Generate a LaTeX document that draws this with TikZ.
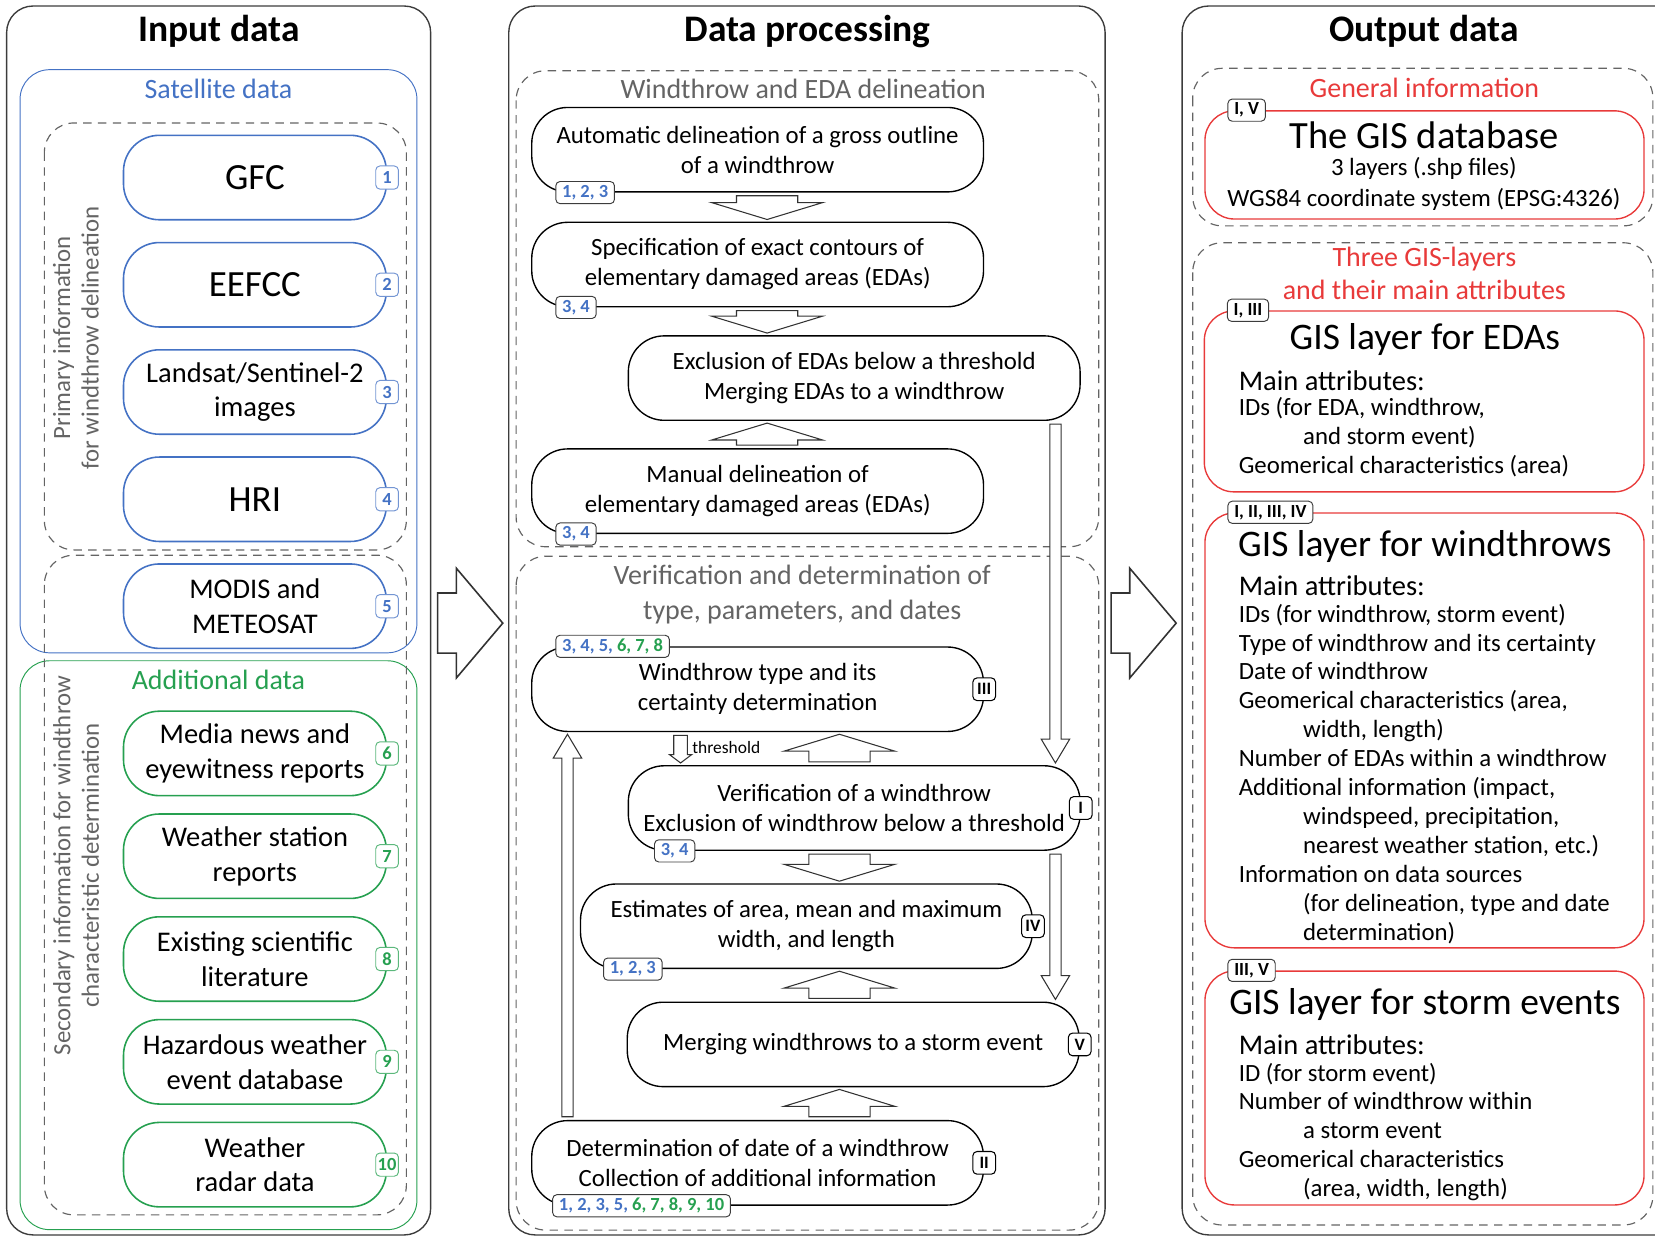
\documentclass[tikz,border=0pt]{standalone}
\usepackage{fontspec}
\setmainfont{Carlito}
\usetikzlibrary{positioning, calc}

\definecolor{srcblue}{RGB}{68,114,196}
\definecolor{srcgreen}{RGB}{38,160,80}
\definecolor{outred}{RGB}{232,58,58}
\definecolor{boxgray}{RGB}{100,100,100}
\definecolor{framegray}{RGB}{60,60,60}
\definecolor{arrowgray}{RGB}{50,50,50}

\newcommand{\fsz}[2]{\fontsize{#1}{#2}\selectfont}
\newcommand{\attrindent}{\hspace*{61pt}}

% hollow vertical arrow: shaft half width, head half width, head length, from, to
\newcommand{\blockarrow}[5]{%
  \draw[blockline] let \p1=(#4), \p2=(#5), \n1={((\y2)-(\y1))/abs((\y2)-(\y1))} in
    ({\x1-#1},{\y1+(\n1)*3}) -- ({\x1-#1},{\y2-(\n1)*2-(\n1)*#3}) -- ({\x1-#2},{\y2-(\n1)*2-(\n1)*#3})
    -- ({\x1},{\y2-(\n1)*2}) -- ({\x1+#2},{\y2-(\n1)*2-(\n1)*#3}) -- ({\x1+#1},{\y2-(\n1)*2-(\n1)*#3})
    -- ({\x1+#1},{\y1+(\n1)*3}) -- cycle;}
% hollow horizontal arrow between the columns
\newcommand{\sidearrow}[5]{%
  \draw[blockline, line width=1.5] let \p1=(#4), \p2=(#5), \n1={((\x2)-(\x1))/abs((\x2)-(\x1))} in
    ({\x1+(\n1)*3},{\y1-#1}) -- ({\x2-(\n1)*2-(\n1)*#3},{\y1-#1}) -- ({\x2-(\n1)*2-(\n1)*#3},{\y1-#2})
    -- ({\x2-(\n1)*2},{\y1}) -- ({\x2-(\n1)*2-(\n1)*#3},{\y1+#2}) -- ({\x2-(\n1)*2-(\n1)*#3},{\y1+#1})
    -- ({\x1+(\n1)*3},{\y1+#1}) -- cycle;}

\tikzset{
colframe/.style={draw=framegray, line width=1.3, rounded corners=25},
coltitle/.style={font=\fsz{35.5}{40}\bfseries},
groupbox/.style={line width=0.9, rounded corners=28},
grouptitle/.style={font=\fsz{26.5}{33}},
dashgroup/.style={draw=boxgray, line width=1.1, dash pattern=on 8pt off 6pt, rounded corners=28},
dashtitle/.style={text=boxgray, font=\fsz{26.5}{33.5}, align=center},
sidenote/.style={rotate=90, align=center, text=boxgray, font=\fsz{23.5}{27}},
srcitem/.style={line width=1.5, rounded corners=34, minimum width=249, minimum height=80, align=center, font=\fsz{27}{33}},
srcbig/.style={font=\fsz{35}{40}},
srctag/.style={fill=white, line width=0.9, rounded corners=4, minimum width=21.5, minimum height=22, inner sep=1.5, font=\fsz{17.5}{19}\bfseries},
procbox/.style={draw, line width=1.3, rounded corners=34, minimum width=428, minimum height=80, align=center, font=\fsz{23.5}{28.5}},
reftag/.style={draw=framegray, fill=white, line width=0.9, rounded corners=4, minimum height=21, inner xsep=6, inner ysep=1, font=\fsz{17.5}{19}\bfseries},
romtag/.style={draw, fill=white, line width=1, rounded corners=4, minimum width=21.5, minimum height=21.5, inner sep=1.5, font=\fsz{16.5}{18}\bfseries},
blockline/.style={draw=arrowgray, fill=white, line width=1},
threshnote/.style={font=\fsz{16.5}{18}, inner sep=0},
layerbox/.style={draw=outred, line width=1.3, rounded corners=28},
layertitle/.style={font=\fsz{35.5}{40}},
layertext/.style={font=\fsz{23.5}{27.5}},
attrhead/.style={font=\fsz{27}{30}, anchor=base west, inner sep=0},
attritem/.style={font=\fsz{23.5}{27.5}, anchor=base west, inner sep=0},
}

\begin{document}
\begin{tikzpicture}[x=1pt, y=-1pt]
\useasboundingbox (0,0) rectangle (1568,1171);

% three columns
\node[colframe, minimum width=401.7, minimum height=1164.3] (input) at (207.15,587.85) {};
\node[colframe, minimum width=565, minimum height=1164.3] (proc) at (764.5,587.85) {};
\node[colframe, minimum width=480, minimum height=1164.3] (output) at (1360,587.85) {};
\node[coltitle] (inputtitle) at (207.5,30) {Input data};
\node[coltitle] (proctitle) at (765,30) {Data processing};
\node[coltitle] (outputtitle) at (1349,30) {Output data};

% input data
\draw[groupbox, draw=srcblue] (19,66) rectangle (395,618.5);
\draw[groupbox, draw=srcgreen] (19,626) rectangle (395,1165);
\draw[dashgroup] (42,116.5) rectangle (385,521);
\draw[dashgroup] (42,526) rectangle (385,1151);
\node[grouptitle, text=srcblue] (sattitle) at (207,84) {Satellite data};
\node[grouptitle, text=srcgreen] (addtitle) at (207,644) {Additional data};
\node[sidenote] (primnote) at (72,320) {Primary information\\for windthrow delineation};
\node[sidenote] (secnote) at (72,820) {Secondary information for windthrow\\characteristic determination};

\node[srcitem, srcbig, draw=srcblue] (gfc) at (241.5,168.2) {GFC};
\node[srcitem, srcbig, draw=srcblue, below=20.1pt of gfc] (eefcc) {EEFCC};
\node[srcitem, draw=srcblue, below=20.1pt of eefcc] (landsat) {Landsat/Sentinel-2\\images};
\node[srcitem, srcbig, draw=srcblue, below=20.1pt of landsat] (hri) {HRI};
\node[srcitem, draw=srcblue, below=19.8pt of hri] (modis) {MODIS and\\METEOSAT};
\node[srcitem, draw=srcgreen, below=58pt of modis] (media) {Media news and\\eyewitness reports};
\node[srcitem, draw=srcgreen, below=15.9pt of media] (station) {Weather station\\reports};
\node[srcitem, draw=srcgreen, below=15.9pt of station] (literature) {Existing scientific\\literature};
\node[srcitem, draw=srcgreen, below=15.9pt of literature] (hazard) {Hazardous weather\\event database};
\node[srcitem, draw=srcgreen, below=15.9pt of hazard] (radar) {Weather\\radar data};

\foreach \src/\k in {gfc/1, eefcc/2, landsat/3, hri/4, modis/5}
  \node[srctag, draw=srcblue!75, text=srcblue] (tag\k) at (\src.east) {\k};
\foreach \src/\k in {media/6, station/7, literature/8, hazard/9, radar/10}
  \node[srctag, draw=srcgreen!75, text=srcgreen] (tag\k) at (\src.east) {\k};

% data processing
\draw[dashgroup] (489,67) rectangle (1041,518);
\draw[dashgroup] (489,527) rectangle (1041,1165.4);
\node[dashtitle] (delintitle) at (761,84) {Windthrow and EDA delineation};
\node[dashtitle] (veriftitle) at (760,563) {Verification and determination of\\type, parameters, and dates};

\node[procbox] (auto) at (717.8,141.8) {Automatic delineation of a gross outline\\of a windthrow};
\node[procbox] (contour) at (717.8,250.6) {Specification of exact contours of\\elementary damaged areas (EDAs)};
\node[procbox] (merge) at (809.3,358.2) {Exclusion of EDAs below a threshold\\Merging EDAs to a windthrow};
\node[procbox] (manual) at (717.8,465.3) {Manual delineation of\\elementary damaged areas (EDAs)};
\node[procbox] (type) at (717.8,653) {Windthrow type and its\\certainty determination};
\node[procbox] (verif) at (809.3,765.5) {Verification of a windthrow\\Exclusion of windthrow below a threshold};
\node[procbox] (size) at (764,877.5) {Estimates of area, mean and maximum\\width, and length};
\node[procbox] (storm) at (808.3,989.5) {Merging windthrows to a storm event};
\node[procbox] (date) at (717.8,1101.7) {Determination of date of a windthrow\\Collection of additional information};

\blockarrow{29}{52.5}{16}{[xshift=9]auto.south}{contour.north}
\blockarrow{29}{52.5}{16}{[xshift=9]contour.south}{merge.north}
\blockarrow{29}{52.5}{16}{[xshift=9]manual.north}{merge.south}
\blockarrow{29}{52.5}{16}{[xshift=-14]verif.north}{type.south}
\blockarrow{29}{52.5}{16}{[xshift=-14]verif.south}{size.north}
\blockarrow{29}{52.5}{16}{[xshift=-13]storm.north}{size.south}
\blockarrow{29}{52.5}{16}{[xshift=77.5]date.north}{storm.south}
\blockarrow{5.3}{13.5}{22.6}{[xshift=-24]merge.south east}{verif.north}
\blockarrow{5.3}{13.5}{22.6}{[xshift=-24]verif.south east}{storm.north}
\blockarrow{5.3}{13.5}{22.6}{[xshift=34.5]date.north west}{type.south}
\blockarrow{6.5}{10.6}{8}{[xshift=-73]type.south}{verif.north}
\node[threshnote, anchor=west] (threshnote) at ([xshift=-62,yshift=-15]type.south) {threshold};

\node[reftag, anchor=west, text=srcblue] (autosrc) at ([xshift=23]auto.south west) {1, 2, 3};
\node[reftag, anchor=west, text=srcblue] (contoursrc) at ([xshift=23]contour.south west) {3, 4};
\node[reftag, anchor=west, text=srcblue] (manualsrc) at ([xshift=23]manual.south west) {3, 4};
\node[reftag, anchor=west] (typesrc) at ([xshift=23]type.north west) {\textcolor{srcblue}{3, 4, 5,} \textcolor{srcgreen}{6, 7, 8}};
\node[reftag, anchor=west, text=srcblue] (verifsrc) at ([xshift=25]verif.south west) {3, 4};
\node[reftag, anchor=west, text=srcblue] (sizesrc) at ([xshift=22]size.south west) {1, 2, 3};
\node[reftag, anchor=west] (datesrc) at ([xshift=20]date.south west) {\textcolor{srcblue}{1, 2, 3, 5,} \textcolor{srcgreen}{6, 7, 8, 9, 10}};
\foreach \stage/\r in {type/III, verif/I, size/IV, storm/V, date/II}
  \node[romtag] (rom\r) at (\stage.east) {\r};

\sidearrow{28.5}{52}{44}{[shift={(3,2.5)}]input.east}{[xshift=-3]proc.west}
\sidearrow{28.5}{52}{44}{[shift={(2,2.5)}]proc.east}{[xshift=-3]output.west}

% output data
\draw[dashgroup] (1130,64.7) rectangle (1566,214);
\draw[dashgroup] (1130,230) rectangle (1566,1160.6);
\node[grouptitle, text=outred] (geninfo) at (1349.5,83.6) {General information};
\node[grouptitle, text=outred, align=center, font=\fsz{26.5}{31.5}] (layersinfo) at (1349.5,259.3) {Three GIS-layers\\and their main attributes};

\node[layerbox, minimum width=416, minimum height=102.5] (gisdb) at (1349.6,156.25) {};
\node[layerbox, minimum width=416.6, minimum height=171.4] (edalayer) at (1349.3,380.3) {};
\node[layerbox, minimum width=416, minimum height=412] (wtlayer) at (1349.6,692) {};
\node[layerbox, minimum width=416, minimum height=221.6] (stormlayer) at (1349.6,1030.8) {};
\node[reftag, anchor=west] (gisdbtag) at ([xshift=22]gisdb.north west) {I, V};
\node[reftag, anchor=west] (edatag) at ([xshift=22]edalayer.north west) {I, III};
\node[reftag, anchor=west] (wttag) at ([xshift=22]wtlayer.north west) {I, II, III, IV};
\node[reftag, anchor=west] (stormtag) at ([xshift=22]stormlayer.north west) {III, V};

\node[layertitle, font=\fsz{36.5}{40}] (gisdbtitle) at (1349.5,128) {The GIS database};
\node[layertext] (gisdbfiles) at (1349,160) {3 layers (.shp files)};
\node[layertext] (gisdbcrs) at (1349,188.6) {WGS84 coordinate system (EPSG:4326)};

\node[layertitle] (edatitle) at (1350,322) {GIS layer for EDAs};
\node[attrhead] (edahead) at (1173.5,370) {Main attributes:};
\foreach \txt [count=\i from 0] in {{IDs (for EDA, windthrow,}, {\attrindent and storm event)},
    {Geomerical characteristics (area)}}
  \node[attritem] (edaattr\i) at (1173.5,394+27.4*\i) {\txt};

\node[layertitle] (wttitle) at (1350,518) {GIS layer for windthrows};
\node[attrhead] (wthead) at (1173.5,564) {Main attributes:};
\foreach \txt [count=\i from 0] in {{IDs (for windthrow, storm event)}, {Type of windthrow and its certainty},
    {Date of windthrow}, {Geomerical characteristics (area,}, {\attrindent width, length)},
    {Number of EDAs within a windthrow}, {Additional information (impact,},
    {\attrindent windspeed, precipitation,}, {\attrindent nearest weather station, etc.)},
    {Information on data sources}, {\attrindent (for delineation, type and date},
    {\attrindent determination)}}
  \node[attritem] (wtattr\i) at (1173.5,589.4+27.4*\i) {\txt};

\node[layertitle] (stormtitle) at (1350,952) {GIS layer for storm events};
\node[attrhead] (stormhead) at (1173.5,999) {Main attributes:};
\foreach \txt [count=\i from 0] in {{ID (for storm event)}, {Number of windthrow within},
    {\attrindent a storm event}, {Geomerical characteristics}, {\attrindent (area, width, length)}}
  \node[attritem] (stormattr\i) at (1173.5,1024.2+27.3*\i) {\txt};
\end{tikzpicture}
\end{document}
